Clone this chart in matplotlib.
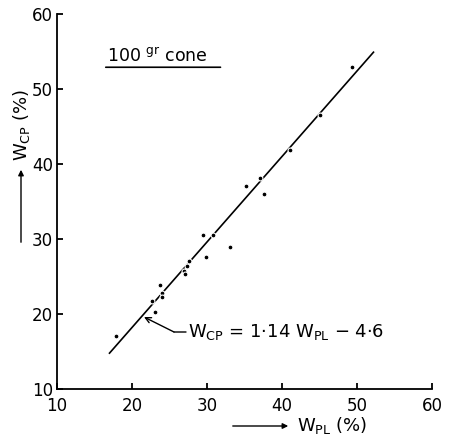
import matplotlib
matplotlib.use("Agg")
import matplotlib.pyplot as plt
import numpy as np

plt.rcParams['font.family'] = ['DejaVu Sans']
plt.rcParams['mathtext.fontset'] = 'dejavusans'

# Data
w_pl = [17.8, 22.6, 23.0, 23.7, 24.0, 24.0, 26.9, 27.1, 27.3, 27.6,
        29.5, 29.8, 30.8, 33.1, 35.2, 37.1, 37.6, 41.1, 45.0, 49.3]
w_cp = [17.1, 21.7, 20.3, 23.9, 22.8, 22.3, 25.7, 25.4, 26.4, 27.1,
        30.5, 27.6, 30.5, 29.0, 37.1, 38.1, 36.0, 41.9, 46.5, 53.0]
slope, intercept = 1.14, -4.6
fit_range = [17.0, 52.2]
x_ticks = [10, 20, 30, 40, 50, 60]
y_ticks = [10, 20, 30, 40, 50, 60]

fig = plt.figure(figsize=(4.5, 4.42), dpi=100)
ax = fig.add_axes([57/450, 53/442, 375/450, 375/442])
ax.set_xlim(10, 60)
ax.set_ylim(10, 60)
ax.set_xticks(x_ticks)
ax.set_yticks(y_ticks)
ax.spines['top'].set_visible(False)
ax.spines['right'].set_visible(False)
for s in ('left', 'bottom'):
    ax.spines[s].set_linewidth(1.3)
ax.tick_params(direction='in', length=4, width=1.3, labelsize=12)
ax.tick_params(axis='x', pad=6)
ax.tick_params(axis='y', pad=3)

fx = np.array(fit_range)
ax.plot(fx, slope * fx + intercept, color='black', lw=1.2, zorder=2)
ax.plot(w_pl, w_cp, 'o', color='black', ms=3.5, mec='white', mew=0.8, zorder=3)

# 100 gr cone label
ax.text(16.7, 53.6, r"100 $^{\mathregular{gr}}$ cone", fontsize=12.5, ha='left', va='baseline')
ax.annotate('', xy=(31.8, 52.9), xytext=(16.5, 52.9),
            arrowprops=dict(arrowstyle='-', lw=1.2, color='black', shrinkA=0, shrinkB=0))

# equation annotation
ax.text(27.4, 17.6, r"W$_{\mathregular{CP}}$ = 1·14 W$_{\mathregular{PL}}$ − 4·6",
        fontsize=13, ha='left', va='center')
ax.annotate('', xy=(25.6, 17.6), xytext=(27.2, 17.6),
            arrowprops=dict(arrowstyle='-', lw=1.0, color='black', shrinkA=0, shrinkB=0))
ax.annotate('', xy=(21.6, 19.6), xytext=(25.6, 17.6),
            arrowprops=dict(arrowstyle='->', lw=1.0, color='black', shrinkA=0, shrinkB=0))

# axis labels with arrows
fig.text(297/450, 1 - 426/442, r"W$_{\mathregular{PL}}$ (%)", fontsize=13, ha='left', va='center')
fig.add_artist(matplotlib.patches.FancyArrowPatch((230/450, 1 - 426/442), (291/450, 1 - 426/442),
               transform=fig.transFigure, arrowstyle='-|>', mutation_scale=8, lw=1.0, color='black'))
fig.text(22/450, 1 - 125/442, r"W$_{\mathregular{CP}}$ (%)", fontsize=13, rotation=90,
         ha='center', va='center')
fig.add_artist(matplotlib.patches.FancyArrowPatch((21/450, 1 - 245/442), (21/450, 1 - 167/442),
               transform=fig.transFigure, arrowstyle='-|>', mutation_scale=8, lw=1.0, color='black'))

fig.savefig('out.png', dpi=100)
